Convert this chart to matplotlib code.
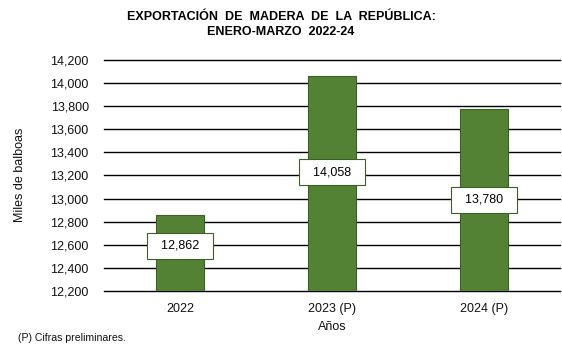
import matplotlib
matplotlib.use("Agg")
import matplotlib.pyplot as plt
from matplotlib.ticker import FuncFormatter

plt.rcParams['font.family'] = ['Liberation Sans', 'DejaVu Sans']

categories = ["2022", "2023 (P)", "2024 (P)"]
values = [12862, 14058, 13780]
label_y = [12590, 13230, 12990]  # vertical placement of the value boxes
yticks = list(range(12200, 14201, 200))

fig = plt.figure(figsize=(5.62, 3.46), dpi=100)
ax = fig.add_axes([0.185, 0.159, 0.8114, 0.6676])

x = range(len(categories))
ax.bar(x, [v - 12200 for v in values], bottom=12200, width=0.31,
       color="#548235", edgecolor="#3b5f25", linewidth=0.8, zorder=3)

ax.set_ylim(12200, 14200)
ax.set_xlim(-0.5, 2.5)
ax.set_yticks(yticks)
ax.yaxis.set_major_formatter(FuncFormatter(lambda v, p: f"{int(v):,}"))
ax.set_xticks(list(x))
ax.set_xticklabels(categories)
ax.grid(axis="y", color="black", linewidth=1.0, zorder=0)
for gl in ax.get_ygridlines():
    gl.set_clip_on(False)
ax.set_axisbelow(True)
for s in ax.spines.values():
    s.set_visible(False)
ax.tick_params(axis="both", length=0, labelsize=9, colors="#111111")
ax.tick_params(axis="y", pad=11)
ax.tick_params(axis="x", pad=9)

for xi, v, ly in zip(x, values, label_y):
    ax.text(xi, ly, f"  {v:,}  ", ha="center", va="center", fontsize=9, zorder=5,
            bbox=dict(boxstyle="square,pad=0.55", facecolor="white",
                      edgecolor="#3b5f25", linewidth=0.8))

ax.set_xlabel("Años", fontsize=9, labelpad=4, color="#111111")
fig.text(0.036, 0.495, "Miles de balboas", rotation=90, ha="center", va="center",
         fontsize=9, color="#111111")

fig.text(0.5, 0.951, "EXPORTACIÓN  DE  MADERA  DE  LA  REPÚBLICA:",
         ha="center", va="center", fontsize=9, fontweight="bold")
fig.text(0.5, 0.907, "ENERO-MARZO  2022-24",
         ha="center", va="center", fontsize=9, fontweight="bold")

fig.text(0.032, 0.023, "(P) Cifras preliminares.", ha="left", va="center",
         fontsize=7.6, color="#111111")

fig.savefig("out.png", dpi=100)
